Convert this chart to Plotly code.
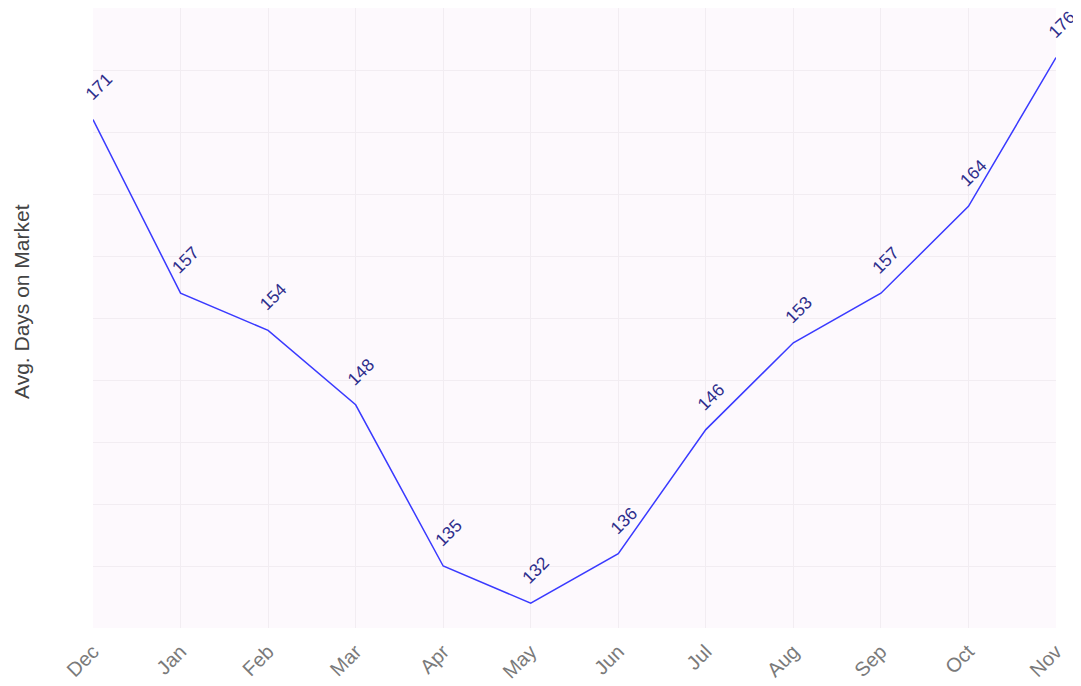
import plotly.graph_objects as go

months = ["Dec", "Jan", "Feb", "Mar", "Apr", "May", "Jun", "Jul", "Aug", "Sep", "Oct", "Nov"]
days = [171, 157, 154, 148, 135, 132, 136, 146, 153, 157, 164, 176]
y_title = "Avg. Days on Market"

fig = go.Figure()
fig.add_trace(go.Scatter(x=months, y=days, mode="lines",
                         line=dict(color="#3a3aff", width=1.5), hoverinfo="x+y"))

for m, d in zip(months, days):
    fig.add_annotation(x=m, y=d, text=str(d), showarrow=False, textangle=-45,
                       xshift=5, yshift=33,
                       font=dict(family="Liberation Sans, Arial", size=17.5, color="#2e2e8c"))

fig.add_annotation(xref="paper", yref="paper", x=0, y=0.5, xanchor="center", yanchor="middle",
                   xshift=-72, yshift=16, textangle=-90, showarrow=False, text=y_title,
                   font=dict(family="Liberation Sans, Arial", size=21, color="#444"))

fig.update_layout(
    width=1081, height=686,
    margin=dict(l=85, r=33, t=0, b=66, autoexpand=False),
    paper_bgcolor="white", plot_bgcolor="#fdf9fd",
    showlegend=False,
    font=dict(family="Liberation Sans, Arial", color="#444"),
    xaxis=dict(range=[0, 11], tickangle=-45, showgrid=True, gridcolor="#f2edf2",
               zeroline=False, showline=False, ticks="outside", ticklen=3, tickcolor="rgba(0,0,0,0)",
               automargin=False,
               tickfont=dict(size=20, color="#7a7a7a")),
    yaxis=dict(range=[130, 180], dtick=5, showticklabels=False, showgrid=True,
               gridcolor="#f2edf2", zeroline=False, showline=False, ticks="", automargin=False),
)

fig.write_html("out.html")
